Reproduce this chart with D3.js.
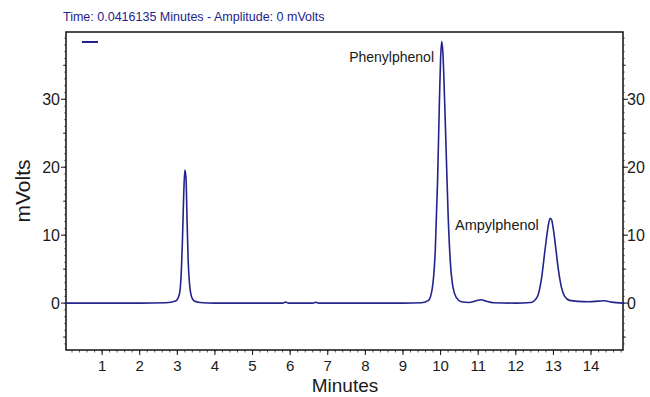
<!DOCTYPE html>
<html><head><meta charset="utf-8">
<script src="https://cdn.jsdelivr.net/npm/d3@7"></script>
<style>body{margin:0;background:#fff}svg{display:block;font-family:"Liberation Sans",Arial,sans-serif}</style>
</head><body><svg id="c" width="650" height="397"></svg>
<script>
const times = [0.04,1,2,2.7,2.95,3.05,3.1,3.14,3.17,3.2,3.23,3.26,3.29,3.33,3.38,3.45,3.6,4,5.8,5.88,5.96,6.6,6.68,6.76,9.0,9.5,9.68,9.78,9.86,9.92,9.97,10.0,10.03,10.06,10.1,10.15,10.2,10.26,10.33,10.42,10.55,10.75,10.95,11.08,11.2,11.4,12.0,12.4,12.56,12.68,12.78,12.86,12.91,12.95,13.0,13.06,13.13,13.21,13.3,13.43,13.65,13.95,14.2,14.35,14.55,14.85];
const mvolts = [0,0,0,0.05,0.3,1.2,4,10,16,19.6,18.5,12,6,2.5,0.9,0.3,0.1,0,0,0.15,0,0,0.12,0,0,0.05,0.4,2.2,8,18,30,36,38.5,37,31,22,13,6,2.3,0.8,0.2,0.1,0.35,0.5,0.3,0.05,0,0.1,0.8,3.5,8,11.3,12.5,12.3,10.8,8.2,5,2.4,1,0.4,0.25,0.2,0.3,0.35,0.15,0];
const xTicks = [1,2,3,4,5,6,7,8,9,10,11,12,13,14];
const yTicks = [0,10,20,30];
const peakNames = ["Phenylphenol","Ampylphenol"];
const title = "Time: 0.0416135 Minutes - Amplitude: 0 mVolts";

const svg = d3.select("#c");
const L=66,R=623,T=32,B=350;
const x = d3.scaleLinear().domain([0.04,14.85]).range([L,R]);
const y = d3.scaleLinear().domain([-6.9,39.9]).range([B,T]);
const navy="#23238c";

svg.append("text").attr("x",63).attr("y",21).attr("font-size",12.5).attr("fill",navy).text(title);

const gx = svg.append("g");
const xMinor = d3.range(0.2,14.85,0.2);
gx.selectAll("line.m").data(xMinor).join("line").attr("x1",d=>x(d)).attr("x2",d=>x(d)).attr("y1",B).attr("y2",B+2.5).attr("stroke","#333").attr("stroke-width",0.8);
gx.selectAll("line.M").data(xTicks).join("line").attr("x1",d=>x(d)).attr("x2",d=>x(d)).attr("y1",B).attr("y2",B+5).attr("stroke","#111").attr("stroke-width",1);
gx.selectAll("text").data(xTicks).join("text").attr("x",d=>x(d)).attr("y",371).attr("text-anchor","middle").attr("font-size",15).attr("fill","#1a1a1a").text(d=>d);

const yMinor = d3.range(-6,40,1);
[[L,-1],[R,1]].forEach(([xx,s])=>{
  const g=svg.append("g");
  g.selectAll("line.m").data(yMinor).join("line").attr("x1",xx).attr("x2",xx+s*(2)).attr("y1",d=>y(d)).attr("y2",d=>y(d)).attr("stroke","#555").attr("stroke-width",0.7);
  g.selectAll("line.h").data([-5,5,15,25,35]).join("line").attr("x1",xx).attr("x2",xx+s*3).attr("y1",d=>y(d)).attr("y2",d=>y(d)).attr("stroke","#333").attr("stroke-width",0.9);
  g.selectAll("line.M").data(yTicks).join("line").attr("x1",xx).attr("x2",xx+s*5).attr("y1",d=>y(d)).attr("y2",d=>y(d)).attr("stroke","#111").attr("stroke-width",1);
  g.selectAll("text").data(yTicks).join("text").attr("x",s<0?xx-6:xx+4).attr("y",d=>y(d)+6).attr("text-anchor",s<0?"end":"start").attr("font-size",16).attr("fill","#1a1a1a").text(d=>d);
});

svg.append("rect").attr("x",L).attr("y",T).attr("width",R-L).attr("height",B-T).attr("fill","none").attr("stroke","#111").attr("stroke-width",1.5);

const line = d3.line().x((d,i)=>x(times[i])).y(d=>y(d)).curve(d3.curveMonotoneX);
svg.append("path").attr("d",line(mvolts)).attr("fill","none").attr("stroke",navy).attr("stroke-width",1.6);

svg.append("line").attr("x1",82).attr("x2",98).attr("y1",42).attr("y2",42).attr("stroke",navy).attr("stroke-width",2);

svg.append("text").attr("x",434).attr("y",62).attr("text-anchor","end").attr("font-size",14).attr("fill","#1a1a1a").text(peakNames[0]);
svg.append("text").attr("x",455).attr("y",230).attr("text-anchor","start").attr("font-size",14.5).attr("fill","#1a1a1a").text(peakNames[1]);

svg.append("text").attr("transform","translate(30,191) rotate(-90)").attr("text-anchor","middle").attr("font-size",21).attr("fill","#1a1a1a").text("mVolts");
svg.append("text").attr("x",345).attr("y",392).attr("text-anchor","middle").attr("font-size",19).attr("fill","#1a1a1a").text("Minutes");
</script></body></html>
